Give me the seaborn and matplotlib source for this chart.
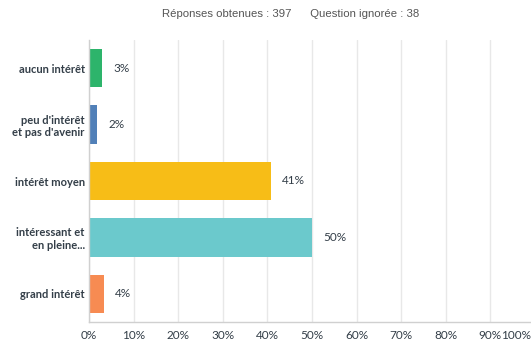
import pandas as pd
import seaborn as sns
import matplotlib.pyplot as plt
import matplotlib.transforms as mtransforms

# ============ Data ============
categories = ["aucun intérêt", "peu d'intérêt\net pas d'avenir", "intérêt moyen",
              "intéressant et\nen pleine...", "grand intérêt"]
values = [3.0, 1.8, 40.8, 50.1, 3.3]
labels = ["3%", "2%", "41%", "50%", "4%"]
colors = ["#2db46b", "#5180b8", "#f7bd17", "#6bc9cc", "#f78b52"]
xticks = [0, 10, 20, 30, 40, 50, 60, 70, 80, 90, 100]

df = pd.DataFrame({"cat": categories, "val": values})

sns.set_style("white")
plt.rcParams['font.family'] = ['Lato', 'DejaVu Sans']

fig = plt.figure(figsize=(5.31, 3.42), dpi=100)
ax = fig.add_axes([89 / 531, 20 / 342, 446 / 531, 282 / 342])

sns.barplot(data=df, y="cat", x="val", hue="cat", palette=colors,
            width=0.68, legend=False, ax=ax, saturation=1, linewidth=0)

ax.set_xlim(0, 100)
ax.set_xticks(xticks)
ax.set_xticklabels([f"{t}%" for t in xticks], fontsize=8.5, color="#333e48")
ax.tick_params(axis="x", length=0, pad=5.5)
ax.tick_params(axis="y", length=0, pad=3)
for t in ax.get_yticklabels():
    t.set_fontsize(8)
    t.set_fontweight("bold")
    t.set_color("#333e48")
# last tick label pulled inside the figure, as in the original
last = ax.get_xticklabels()[-1]
last.set_horizontalalignment("right")
last.set_transform(last.get_transform() +
                   mtransforms.ScaledTranslation(-4 / 100, 0, fig.dpi_scale_trans))
ax.set_xlabel("")
ax.set_ylabel("")
ax.grid(axis="x", color="#e8e8e8", linewidth=1)
ax.set_axisbelow(True)
for s in ["top", "right"]:
    ax.spines[s].set_visible(False)
for s in ["left", "bottom"]:
    ax.spines[s].set_color("#d0d0d0")
    ax.spines[s].set_linewidth(1)

for i, (v, lab) in enumerate(zip(values, labels)):
    ax.text(v + 2.5, i, lab, va="center", ha="left", fontsize=8.5,
            color="#333e48")

fig.text(291 / 531, 1 - 14 / 342, "Réponses obtenues : 397      Question ignorée : 38",
         ha="center", va="center", fontsize=8.2, color="#555555", family="Liberation Sans")

fig.savefig("out.png", dpi=100)
